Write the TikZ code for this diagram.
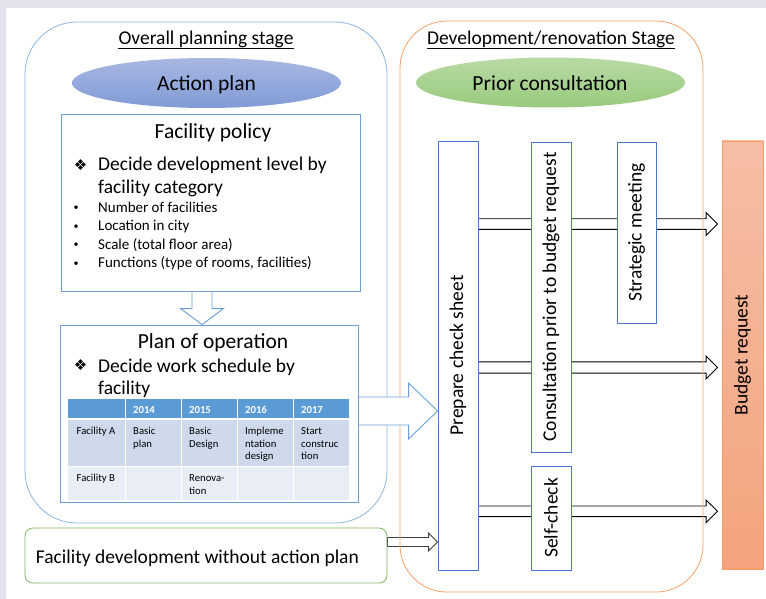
\documentclass[tikz,border=0pt]{standalone}
\usepackage{fontspec}
\setmainfont{Carlito}
\newfontfamily\dejavu{DejaVu Sans}
\usepackage{graphicx}
\usetikzlibrary{shapes.geometric,backgrounds,calc}

\definecolor{lav}{HTML}{E4E0EC}
\definecolor{outerblue}{HTML}{8DB6E2}
\definecolor{boxblue}{HTML}{6C9FDA}
\definecolor{darkblue}{HTML}{4A78CC}
\definecolor{orangeline}{HTML}{F4A36A}
\definecolor{greenline}{HTML}{7FB85F}
\definecolor{hdr}{HTML}{5B9BD5}
\definecolor{rowa}{HTML}{CFD9EC}
\definecolor{rowb}{HTML}{E9EDF6}
\definecolor{ellbT}{HTML}{A8B7E1}
\definecolor{ellbB}{HTML}{819BD6}
\definecolor{ellgT}{HTML}{B8DAA4}
\definecolor{ellgB}{HTML}{99CA7D}
\definecolor{budT}{HTML}{F5BEA5}
\definecolor{budB}{HTML}{F4A37D}
\definecolor{budline}{HTML}{F49B66}
\definecolor{arrgrey}{HTML}{404040}

\tikzset{
  mainf/.style={font=\fontsize{19.5}{23}\selectfont},
  bigf/.style={font=\fontsize{21.5}{25}\selectfont},
  smallf/.style={font=\fontsize{15}{18.5}\selectfont},
  tabf/.style={font=\fontsize{10.7}{12.7}\selectfont},
  tabh/.style={font=\fontsize{10.7}{12.7}\selectfont\bfseries, text=white},
  stagebox/.style={draw, inner sep=0pt, line width=0.8pt},
  panel/.style={draw=boxblue, fill=white, inner sep=0pt, line width=0.9pt},
  vbox/.style={draw=darkblue, fill=white, inner sep=0pt, line width=0.9pt, mainf},
  ell/.style={ellipse, inner sep=0pt, minimum width=269pt, minimum height=50pt},
  txt/.style={inner sep=0pt},
  hblock/.style n args={3}{to path={let \p1=(\tikztostart), \p2=(\tikztotarget) in
     (\x1,\y1+#1) -- (\x2-#3,\y1+#1) -- (\x2-#3,\y1+#2) -- (\x2,\y1) -- (\x2-#3,\y1-#2) -- (\x2-#3,\y1-#1) -- (\x1,\y1-#1) -- cycle}},
  vblock/.style n args={3}{to path={let \p1=(\tikztostart), \p2=(\tikztotarget) in
     (\x1-#1,\y1) -- (\x1-#1,\y2+#3) -- (\x1-#2,\y2+#3) -- (\x1,\y2) -- (\x1+#2,\y2+#3) -- (\x1+#1,\y2+#3) -- (\x1+#1,\y1) -- cycle}},
}

\begin{document}
\begin{tikzpicture}[x=1pt,y=-1pt]
\useasboundingbox (0,0) rectangle (766,599);

% stages
\node[stagebox, draw=outerblue, rounded corners=52pt, minimum width=362pt, minimum height=501pt] (left) at (206,272.5) {};
\node[stagebox, draw=orangeline, rounded corners=47pt, minimum width=303pt, minimum height=571pt] (right) at (551.5,306.5) {};
\node[stagebox, draw=greenline, rounded corners=8pt, minimum width=362pt, minimum height=55pt] (nogreen) at (206,555.5) {};
\node[txt, mainf, anchor=base west] (nogt) at (35.7,563.3) {Facility development without action plan};

% titles
\node[txt, mainf, anchor=base] (t1) at (206,45) {Overall planning stage};
\draw[line width=1pt] ([yshift=-3.3pt]t1.base west) -- ([yshift=-3.3pt]t1.base east);
\node[txt, mainf, anchor=base] (t2) at (551,45) {Development/renovation Stage};
\draw[line width=1pt] ([yshift=-3.3pt]t2.base west) -- ([yshift=-3.3pt]t2.base east);

% ellipses
\node[ell, top color=ellbT, bottom color=ellbB] (ap) at (206.5,83) {};
\node[txt, bigf, anchor=base] (apt) at (206.5,91) {Action plan};
\node[ell, top color=ellgT, bottom color=ellgB] (pc) at (550.5,82.5) {};
\node[txt, bigf, anchor=base] (pct) at (550,90.7) {Prior consultation};

% facility policy
\node[panel, minimum width=299pt, minimum height=177pt] (fp) at (210.5,202.5) {};
\node[txt, bigf, anchor=base] (fpt) at (213,139) {Facility policy};
\node[txt, font=\dejavu\fontsize{15}{15}\selectfont] (d1) at (80.5,165) {❖};
\node[txt, mainf, anchor=base west] (fp1) at (98,170.5) {\parbox[t]{255pt}{\fontsize{19.5}{22.7}\selectfont Decide development level by\\facility category}};
\foreach \yy/\tt [count=\i] in {212.3/Number of facilities,230.5/Location in city,249/Scale (total floor area),267.7/{Functions (type of rooms, facilities)}}{
  \node[txt, font=\fontsize{10}{10}\selectfont, anchor=base] (b\i) at (76,\yy-1.5) {•};
  \node[txt, smallf, anchor=base west] (bt\i) at (98,\yy) {\tt};
}

% plan of operation
\node[panel, minimum width=298pt, minimum height=177pt] (po) at (209,413.5) {};
\node[txt, bigf, anchor=base] (pot) at (213,348.3) {Plan of operation};
\node[txt, font=\dejavu\fontsize{15}{15}\selectfont] (d2) at (80.5,365) {❖};
\node[txt, mainf, anchor=base west] (po1) at (98,372) {\parbox[t]{255pt}{\fontsize{19.5}{22.5}\selectfont Decide work schedule by\\facility}};

% table
\foreach \xa/\xb in {68/125,126/181,182/237,238/293,294/349}{
  \fill[hdr] (\xa,399) rectangle (\xb,418);
  \fill[rowa] (\xa,420) rectangle (\xb,466);
  \fill[rowb] (\xa,467) rectangle (\xb,500);
}
\foreach \xx/\yr in {133/2014,189/2015,245/2016,301/2017}
  \node[txt, tabh, anchor=base west] (h\yr) at (\xx,413.3) {\yr};
\node[txt, tabf, anchor=base west] (ca1) at (76.5,434.3) {Facility A};
\node[txt, tabf, anchor=base west] (ca2) at (133,434.3) {\parbox[t]{50pt}{\fontsize{10.7}{12.7}\selectfont Basic\\plan}};
\node[txt, tabf, anchor=base west] (ca3) at (189,434.3) {\parbox[t]{50pt}{\fontsize{10.7}{12.7}\selectfont Basic\\Design}};
\node[txt, tabf, anchor=base west] (ca4) at (245,434.3) {\parbox[t]{50pt}{\fontsize{10.7}{12.7}\selectfont Impleme\\ntation\\design}};
\node[txt, tabf, anchor=base west] (ca5) at (301,434.3) {\parbox[t]{50pt}{\fontsize{10.7}{12.7}\selectfont Start\\construc\\tion}};
\node[txt, tabf, anchor=base west] (cb1) at (76.5,481.3) {Facility B};
\node[txt, tabf, anchor=base west] (cb3) at (189,481.3) {\parbox[t]{50pt}{\fontsize{10.7}{12.7}\selectfont Renova-\\tion}};

% vertical boxes
\node[vbox, minimum width=40pt, minimum height=429pt] (prep) at (458,355.5) {\rotatebox{90}{Prepare check sheet}};
\node[vbox, minimum width=40pt, minimum height=310pt] (cons) at (551,297) {\rotatebox{90}{Consultation prior to budget request}};
\node[vbox, minimum width=39pt, minimum height=181pt] (strat) at (636.5,232.5) {\rotatebox{90}{Strategic meeting}};
\node[vbox, minimum width=40pt, minimum height=104pt] (self) at (551,518) {\rotatebox{90}{Self-check}};
\node[vbox, draw=budline, top color=budT, bottom color=budB, minimum width=41pt, minimum height=428pt] (budget) at (742.5,355) {\rotatebox{90}{Budget request}};

% background: page and thin arrows behind boxes
\begin{scope}[on background layer]
  \fill[white] (0,0) rectangle (766,599);
  \fill[lav] (0,0) rectangle (766,8);
  \fill[lav] (0,0) rectangle (6,599);
  \draw[line width=0.9pt, hblock={5.3pt}{11.5pt}{11.5pt}] ([yshift=131.5pt]prep.east) to ([xshift=-4pt]budget.west);
  \draw[line width=0.9pt, hblock={5.6pt}{11.5pt}{11.5pt}] ([yshift=-12pt]prep.east) to ([xshift=-4pt]budget.west);
  \draw[line width=0.9pt, hblock={5.3pt}{11.3pt}{11.5pt}] ([yshift=-155.8pt]prep.east) to ([xshift=-4pt]budget.west);
  \draw[arrgrey, line width=0.9pt, hblock={4.5pt}{9pt}{9pt}] ([yshift=13.5pt]nogreen.east) to (prep.west);
\end{scope}

% blue block arrows
\draw[boxblue, fill=white, line width=0.9pt, vblock={10pt}{21.5pt}{16pt}] ([xshift=-8.5pt]fp.south) to ([xshift=-7pt]po.north);
\draw[boxblue, fill=white, line width=0.9pt, hblock={14pt}{28pt}{29pt}] ([yshift=2.5pt]po.east) to (prep.west);

\end{tikzpicture}
\end{document}
